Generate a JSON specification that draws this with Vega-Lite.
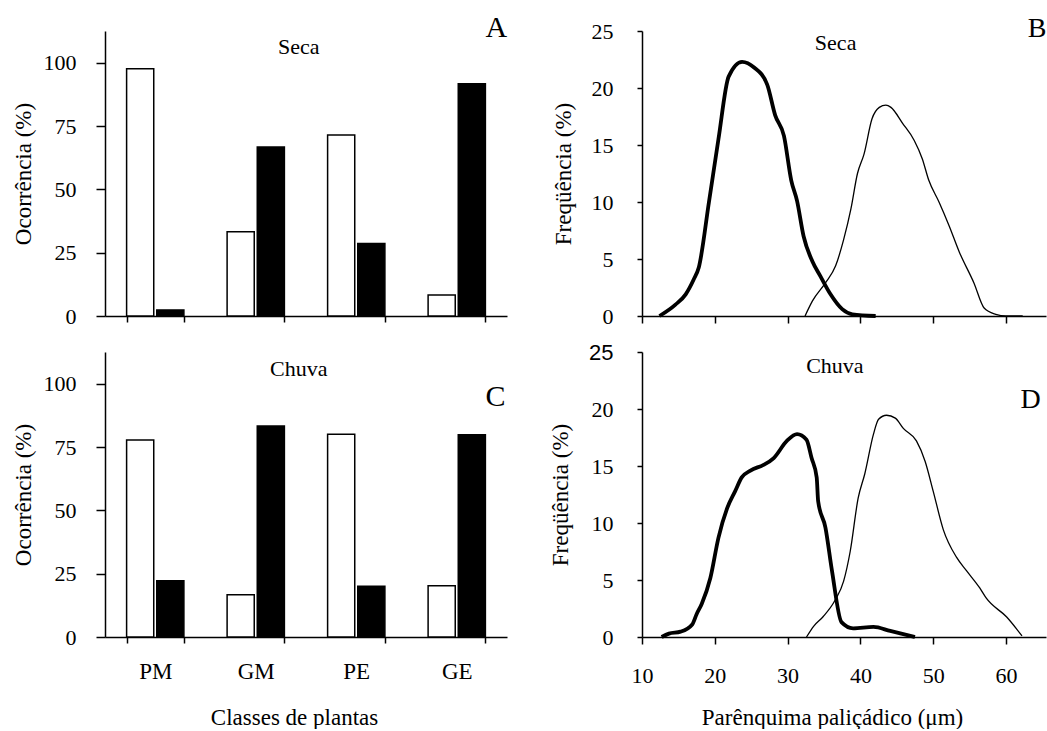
{
  "$schema": "https://vega.github.io/schema/vega-lite/v6.json",
  "padding": {"left": 12, "top": 13, "right": 0, "bottom": 0},
  "background": "white",
  "bounds": "flush",
  "columns": 2,
  "spacing": {"row": 36, "column": 135},
  "config": {
    "font": "Liberation Serif",
    "view": {"stroke": null},
    "axis": {
      "grid": false,
      "domainColor": "black",
      "domainWidth": 1.5,
      "tickColor": "black",
      "tickWidth": 1.5,
      "labelColor": "black",
      "titleColor": "black",
      "labelFont": "Liberation Serif",
      "titleFont": "Liberation Serif",
      "labelFontSize": 22,
      "titleFontSize": 23,
      "titleFontWeight": "normal",
      "labelFlush": false,
      "labelOverlap": false
    }
  },
  "datasets": {
    "barras": [
      {"periodo": "Seca", "classe": "PM", "grupo": "1", "valor": 97.6},
      {"periodo": "Seca", "classe": "PM", "grupo": "2", "valor": 2.4},
      {"periodo": "Seca", "classe": "GM", "grupo": "1", "valor": 33.3},
      {"periodo": "Seca", "classe": "GM", "grupo": "2", "valor": 66.7},
      {"periodo": "Seca", "classe": "PE", "grupo": "1", "valor": 71.4},
      {"periodo": "Seca", "classe": "PE", "grupo": "2", "valor": 28.6},
      {"periodo": "Seca", "classe": "GE", "grupo": "1", "valor": 8.3},
      {"periodo": "Seca", "classe": "GE", "grupo": "2", "valor": 91.7},
      {"periodo": "Chuva", "classe": "PM", "grupo": "1", "valor": 77.8},
      {"periodo": "Chuva", "classe": "PM", "grupo": "2", "valor": 22.2},
      {"periodo": "Chuva", "classe": "GM", "grupo": "1", "valor": 16.7},
      {"periodo": "Chuva", "classe": "GM", "grupo": "2", "valor": 83.3},
      {"periodo": "Chuva", "classe": "PE", "grupo": "1", "valor": 80.0},
      {"periodo": "Chuva", "classe": "PE", "grupo": "2", "valor": 20.0},
      {"periodo": "Chuva", "classe": "GE", "grupo": "1", "valor": 20.2},
      {"periodo": "Chuva", "classe": "GE", "grupo": "2", "valor": 79.8}
    ],
    "linhas": [
      {"periodo": "Seca", "serie": "Série 1", "x": 12.4, "y": 0},
      {"periodo": "Seca", "serie": "Série 1", "x": 14.6, "y": 1.0},
      {"periodo": "Seca", "serie": "Série 1", "x": 16.0, "y": 1.9},
      {"periodo": "Seca", "serie": "Série 1", "x": 17.1, "y": 3.2},
      {"periodo": "Seca", "serie": "Série 1", "x": 17.8, "y": 4.25},
      {"periodo": "Seca", "serie": "Série 1", "x": 19.2, "y": 10.0},
      {"periodo": "Seca", "serie": "Série 1", "x": 20.5, "y": 15.5},
      {"periodo": "Seca", "serie": "Série 1", "x": 21.9, "y": 21.0},
      {"periodo": "Seca", "serie": "Série 1", "x": 23.75, "y": 22.3},
      {"periodo": "Seca", "serie": "Série 1", "x": 25.4, "y": 21.8},
      {"periodo": "Seca", "serie": "Série 1", "x": 27.2, "y": 20.3},
      {"periodo": "Seca", "serie": "Série 1", "x": 28.3, "y": 17.6},
      {"periodo": "Seca", "serie": "Série 1", "x": 29.5, "y": 15.8},
      {"periodo": "Seca", "serie": "Série 1", "x": 30.5, "y": 11.9},
      {"periodo": "Seca", "serie": "Série 1", "x": 31.3, "y": 10.1},
      {"periodo": "Seca", "serie": "Série 1", "x": 32.2, "y": 7.0},
      {"periodo": "Seca", "serie": "Série 1", "x": 33.4, "y": 4.8},
      {"periodo": "Seca", "serie": "Série 1", "x": 34.5, "y": 3.5},
      {"periodo": "Seca", "serie": "Série 1", "x": 35.9, "y": 1.9},
      {"periodo": "Seca", "serie": "Série 1", "x": 37.5, "y": 0.6},
      {"periodo": "Seca", "serie": "Série 1", "x": 38.9, "y": 0.15},
      {"periodo": "Seca", "serie": "Série 1", "x": 42.1, "y": 0},
      {"periodo": "Seca", "serie": "Série 2", "x": 32.4, "y": 0},
      {"periodo": "Seca", "serie": "Série 2", "x": 33.4, "y": 1.3},
      {"periodo": "Seca", "serie": "Série 2", "x": 35.2, "y": 2.9},
      {"periodo": "Seca", "serie": "Série 2", "x": 36.6, "y": 4.4},
      {"periodo": "Seca", "serie": "Série 2", "x": 37.7, "y": 6.7},
      {"periodo": "Seca", "serie": "Série 2", "x": 38.7, "y": 9.4},
      {"periodo": "Seca", "serie": "Série 2", "x": 39.6, "y": 12.5},
      {"periodo": "Seca", "serie": "Série 2", "x": 40.5, "y": 14.2},
      {"periodo": "Seca", "serie": "Série 2", "x": 41.6, "y": 17.3},
      {"periodo": "Seca", "serie": "Série 2", "x": 42.6, "y": 18.3},
      {"periodo": "Seca", "serie": "Série 2", "x": 43.5, "y": 18.5},
      {"periodo": "Seca", "serie": "Série 2", "x": 44.2, "y": 18.3},
      {"periodo": "Seca", "serie": "Série 2", "x": 45.8, "y": 16.9},
      {"periodo": "Seca", "serie": "Série 2", "x": 47.4, "y": 15.4},
      {"periodo": "Seca", "serie": "Série 2", "x": 48.5, "y": 13.8},
      {"periodo": "Seca", "serie": "Série 2", "x": 49.4, "y": 11.9},
      {"periodo": "Seca", "serie": "Série 2", "x": 50.8, "y": 10.0},
      {"periodo": "Seca", "serie": "Série 2", "x": 52.2, "y": 7.9},
      {"periodo": "Seca", "serie": "Série 2", "x": 53.6, "y": 5.6},
      {"periodo": "Seca", "serie": "Série 2", "x": 55.6, "y": 2.9},
      {"periodo": "Seca", "serie": "Série 2", "x": 57.0, "y": 0.7},
      {"periodo": "Seca", "serie": "Série 2", "x": 58.6, "y": 0.15},
      {"periodo": "Seca", "serie": "Série 2", "x": 60.0, "y": 0},
      {"periodo": "Seca", "serie": "Série 2", "x": 62.3, "y": 0},
      {"periodo": "Chuva", "serie": "Série 1", "x": 12.7, "y": 0},
      {"periodo": "Chuva", "serie": "Série 1", "x": 13.7, "y": 0.3},
      {"periodo": "Chuva", "serie": "Série 1", "x": 15.3, "y": 0.47},
      {"periodo": "Chuva", "serie": "Série 1", "x": 16.9, "y": 1.1},
      {"periodo": "Chuva", "serie": "Série 1", "x": 17.5, "y": 2.0},
      {"periodo": "Chuva", "serie": "Série 1", "x": 18.2, "y": 2.9},
      {"periodo": "Chuva", "serie": "Série 1", "x": 19.4, "y": 5.2},
      {"periodo": "Chuva", "serie": "Série 1", "x": 20.5, "y": 8.7},
      {"periodo": "Chuva", "serie": "Série 1", "x": 21.7, "y": 11.3},
      {"periodo": "Chuva", "serie": "Série 1", "x": 22.8, "y": 12.8},
      {"periodo": "Chuva", "serie": "Série 1", "x": 23.7, "y": 14.0},
      {"periodo": "Chuva", "serie": "Série 1", "x": 24.9, "y": 14.6},
      {"periodo": "Chuva", "serie": "Série 1", "x": 26.7, "y": 15.1},
      {"periodo": "Chuva", "serie": "Série 1", "x": 28.1, "y": 15.7},
      {"periodo": "Chuva", "serie": "Série 1", "x": 29.9, "y": 17.2},
      {"periodo": "Chuva", "serie": "Série 1", "x": 31.3, "y": 17.8},
      {"periodo": "Chuva", "serie": "Série 1", "x": 32.6, "y": 17.3},
      {"periodo": "Chuva", "serie": "Série 1", "x": 33.3, "y": 15.7},
      {"periodo": "Chuva", "serie": "Série 1", "x": 34.0, "y": 14.0},
      {"periodo": "Chuva", "serie": "Série 1", "x": 34.2, "y": 11.9},
      {"periodo": "Chuva", "serie": "Série 1", "x": 35.2, "y": 9.6},
      {"periodo": "Chuva", "serie": "Série 1", "x": 36.1, "y": 5.8},
      {"periodo": "Chuva", "serie": "Série 1", "x": 37.4, "y": 1.3},
      {"periodo": "Chuva", "serie": "Série 1", "x": 39.0, "y": 0.76},
      {"periodo": "Chuva", "serie": "Série 1", "x": 41.8, "y": 0.88},
      {"periodo": "Chuva", "serie": "Série 1", "x": 44.1, "y": 0.53},
      {"periodo": "Chuva", "serie": "Série 1", "x": 47.5, "y": 0},
      {"periodo": "Chuva", "serie": "Série 2", "x": 32.6, "y": 0},
      {"periodo": "Chuva", "serie": "Série 2", "x": 33.6, "y": 0.96},
      {"periodo": "Chuva", "serie": "Série 2", "x": 34.9, "y": 1.8},
      {"periodo": "Chuva", "serie": "Série 2", "x": 36.5, "y": 3.2},
      {"periodo": "Chuva", "serie": "Série 2", "x": 37.7, "y": 4.9},
      {"periodo": "Chuva", "serie": "Série 2", "x": 38.6, "y": 7.5},
      {"periodo": "Chuva", "serie": "Série 2", "x": 39.7, "y": 12.2},
      {"periodo": "Chuva", "serie": "Série 2", "x": 40.6, "y": 14.3},
      {"periodo": "Chuva", "serie": "Série 2", "x": 41.8, "y": 17.8},
      {"periodo": "Chuva", "serie": "Série 2", "x": 42.5, "y": 19.1},
      {"periodo": "Chuva", "serie": "Série 2", "x": 43.6, "y": 19.45},
      {"periodo": "Chuva", "serie": "Série 2", "x": 44.8, "y": 19.2},
      {"periodo": "Chuva", "serie": "Série 2", "x": 45.9, "y": 18.3},
      {"periodo": "Chuva", "serie": "Série 2", "x": 47.7, "y": 17.2},
      {"periodo": "Chuva", "serie": "Série 2", "x": 48.9, "y": 15.4},
      {"periodo": "Chuva", "serie": "Série 2", "x": 50.0, "y": 12.8},
      {"periodo": "Chuva", "serie": "Série 2", "x": 51.4, "y": 9.4},
      {"periodo": "Chuva", "serie": "Série 2", "x": 53.2, "y": 7.0},
      {"periodo": "Chuva", "serie": "Série 2", "x": 54.6, "y": 5.8},
      {"periodo": "Chuva", "serie": "Série 2", "x": 56.4, "y": 4.3},
      {"periodo": "Chuva", "serie": "Série 2", "x": 57.3, "y": 3.4},
      {"periodo": "Chuva", "serie": "Série 2", "x": 60.1, "y": 1.75},
      {"periodo": "Chuva", "serie": "Série 2", "x": 62.2, "y": 0.1}
    ]
  },
  "concat": [
    {
      "width": 402,
      "height": 285,
      "layer": [
        {
          "data": {"name": "barras"},
          "transform": [{"filter": "datum.periodo === 'Seca'"}],
          "mark": {"type": "bar", "stroke": "black", "strokeWidth": 1.5},
          "encoding": {
            "x": {"field": "classe", "type": "nominal", "sort": ["PM", "GM", "PE", "GE"],
                  "scale": {"paddingInner": 0.43, "paddingOuter": 0.215},
                  "axis": {"title": null, "labels": false, "tickBand": "extent", "tickSize": 6}},
            "xOffset": {"field": "grupo", "type": "nominal", "scale": {"paddingInner": 0.1}},
            "y": {"field": "valor", "type": "quantitative",
                  "scale": {"domain": [0, 112.5], "nice": false},
                  "axis": {"title": "Ocorrência (%)", "titleFontSize": 23, "labelFontSize": 22,
                           "values": [0, 12.5, 25, 37.5, 50, 62.5, 75, 87.5, 100, 112.5],
                           "labelExpr": "datum.value % 25 === 0 ? datum.label : ''",
                           "tickSize": 9, "labelPadding": 20, "titlePadding": 8}},
            "fill": {"field": "grupo", "type": "nominal", "scale": {"domain": ["1", "2"], "range": ["white", "black"]}, "legend": null}
          }
        },
        {
          "data": {"values": [{"t": "Seca"}]},
          "mark": {"type": "text", "fontSize": 22, "align": "center", "baseline": "alphabetic", "color": "black"},
          "encoding": {"text": {"field": "t"}, "x": {"datum": "GM", "bandPosition": 1.25}, "y": {"datum": 103.5}}
        },
        {
          "data": {"values": [{"letra": "A"}]},
          "mark": {"type": "text", "fontSize": 30, "align": "left", "baseline": "alphabetic", "color": "black"},
          "encoding": {"text": {"field": "letra"}, "x": {"datum": "GE", "bandPosition": 1}, "y": {"datum": 110}}
        }
      ]
    },
    {
      "width": 404,
      "height": 285,
      "layer": [
        {
          "data": {"name": "linhas"},
          "transform": [{"filter": "datum.periodo === 'Seca'"}],
          "mark": {"type": "line", "interpolate": "monotone", "color": "black"},
          "encoding": {
            "x": {"field": "x", "type": "quantitative", "scale": {"domain": [10, 65.5], "nice": false, "zero": false},
                  "axis": {"title": null, "labels": false, "values": [10, 15, 20, 25, 30, 35, 40, 45, 50, 55, 60, 65], "tickSize": 7}},
            "y": {"field": "y", "type": "quantitative", "scale": {"domain": [0, 25], "nice": false},
                  "axis": {"title": "Freqüência (%)", "titleFontSize": 23, "labelFontSize": 22,
                           "values": [0, 2.5, 5, 7.5, 10, 12.5, 15, 17.5, 20, 22.5, 25],
                           "labelExpr": "datum.value % 5 === 0 ? datum.label : ''",
                           "tickSize": 5, "labelPadding": 24, "titlePadding": 16}},
            "detail": {"field": "serie"},
            "strokeWidth": {"field": "serie", "type": "nominal", "scale": {"domain": ["Série 1", "Série 2"], "range": [3.8, 1.3]}, "legend": null}
          }
        },
        {
          "data": {"values": [{"t": "Seca"}]},
          "mark": {"type": "text", "fontSize": 22, "align": "center", "baseline": "alphabetic", "color": "black"},
          "encoding": {"text": {"field": "t"}, "x": {"datum": 36.6}, "y": {"datum": 23.3}}
        },
        {
          "data": {"values": [{"t": "B"}]},
          "mark": {"type": "text", "fontSize": 28, "align": "left", "baseline": "alphabetic", "color": "black"},
          "encoding": {"text": {"field": "t"}, "x": {"datum": 63}, "y": {"datum": 24.5}}
        }
      ]
    },
    {
      "width": 402,
      "height": 285,
      "layer": [
        {
          "data": {"name": "barras"},
          "transform": [{"filter": "datum.periodo === 'Chuva'"}],
          "mark": {"type": "bar", "stroke": "black", "strokeWidth": 1.5},
          "encoding": {
            "x": {"field": "classe", "type": "nominal", "sort": ["PM", "GM", "PE", "GE"],
                  "scale": {"paddingInner": 0.43, "paddingOuter": 0.215},
                  "axis": {"title": "Classes de plantas", "titleFontSize": 23, "tickBand": "extent", "tickSize": 6, "labelAngle": 0,
                           "labelFontSize": 23, "labelPadding": 17, "titlePadding": 23, "titleX": 189}},
            "xOffset": {"field": "grupo", "type": "nominal", "scale": {"paddingInner": 0.1}},
            "y": {"field": "valor", "type": "quantitative",
                  "scale": {"domain": [0, 112.5], "nice": false},
                  "axis": {"title": "Ocorrência (%)", "titleFontSize": 23, "labelFontSize": 22,
                           "values": [0, 12.5, 25, 37.5, 50, 62.5, 75, 87.5, 100, 112.5],
                           "labelExpr": "datum.value % 25 === 0 ? datum.label : ''",
                           "tickSize": 9, "labelPadding": 20, "titlePadding": 8}},
            "fill": {"field": "grupo", "type": "nominal", "scale": {"domain": ["1", "2"], "range": ["white", "black"]}, "legend": null}
          }
        },
        {
          "data": {"values": [{"t": "Chuva"}]},
          "mark": {"type": "text", "fontSize": 22, "align": "center", "baseline": "alphabetic", "color": "black"},
          "encoding": {"text": {"field": "t"}, "x": {"datum": "GM", "bandPosition": 1.25}, "y": {"datum": 103}}
        },
        {
          "data": {"values": [{"letra": "C"}]},
          "mark": {"type": "text", "fontSize": 30, "align": "left", "baseline": "alphabetic", "color": "black"},
          "encoding": {"text": {"field": "letra"}, "x": {"datum": "GE", "bandPosition": 1}, "y": {"datum": 91}}
        }
      ]
    },
    {
      "width": 404,
      "height": 285,
      "layer": [
        {
          "data": {"name": "linhas"},
          "transform": [{"filter": "datum.periodo === 'Chuva'"}],
          "mark": {"type": "line", "interpolate": "monotone", "color": "black"},
          "encoding": {
            "x": {"field": "x", "type": "quantitative", "scale": {"domain": [10, 65.5], "nice": false, "zero": false},
                  "axis": {"title": "Parênquima paliçádico (μm)", "titleFontSize": 23, "labelFontSize": 22,
                           "values": [10, 15, 20, 25, 30, 35, 40, 45, 50, 55, 60, 65],
                           "labelExpr": "datum.value % 10 === 0 ? datum.label : ''",
                           "tickSize": 7, "labelPadding": 21, "titlePadding": 20, "titleX": 190}},
            "y": {"field": "y", "type": "quantitative", "scale": {"domain": [0, 25], "nice": false},
                  "axis": {"title": "Freqüência (%)", "titleFontSize": 23, "labelFontSize": 22,
                           "values": [0, 2.5, 5, 7.5, 10, 12.5, 15, 17.5, 20, 22.5, 25],
                           "labelExpr": "datum.value % 5 === 0 ? datum.label : ''",
                           "labelFont": {"condition": {"test": "datum.value === 25", "value": "Liberation Sans"}, "value": "Liberation Serif"},
                           "tickSize": 5, "labelPadding": 24, "titlePadding": 16}},
            "detail": {"field": "serie"},
            "strokeWidth": {"field": "serie", "type": "nominal", "scale": {"domain": ["Série 1", "Série 2"], "range": [3.8, 1.3]}, "legend": null}
          }
        },
        {
          "data": {"values": [{"t": "Chuva"}]},
          "mark": {"type": "text", "fontSize": 22, "align": "center", "baseline": "alphabetic", "color": "black"},
          "encoding": {"text": {"field": "t"}, "x": {"datum": 36.5}, "y": {"datum": 23.2}}
        },
        {
          "data": {"values": [{"t": "D"}]},
          "mark": {"type": "text", "fontSize": 28, "align": "left", "baseline": "alphabetic", "color": "black"},
          "encoding": {"text": {"field": "t"}, "x": {"datum": 62}, "y": {"datum": 20.1}}
        }
      ]
    }
  ]
}
